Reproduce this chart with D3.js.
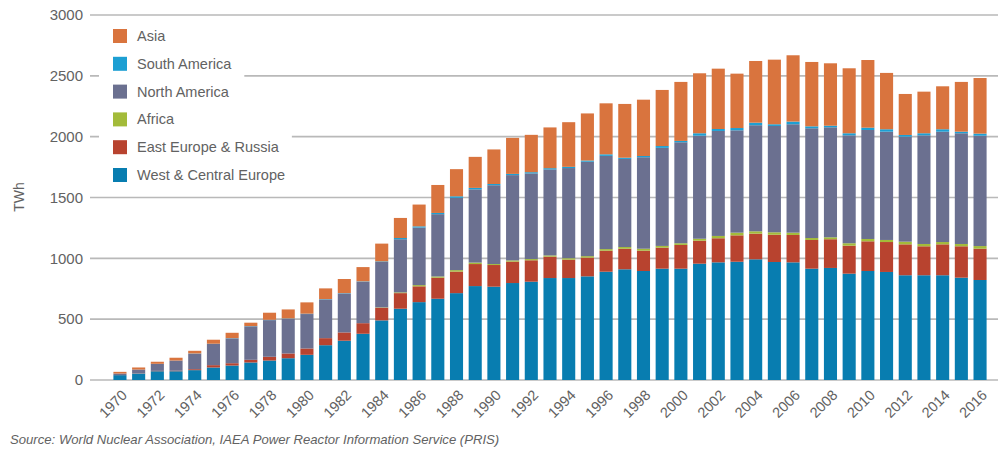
<!DOCTYPE html>
<html>
<head>
<meta charset="utf-8">
<script src="https://cdn.jsdelivr.net/npm/d3@7"></script>
<style>
  body { margin: 0; background: #fff; }
  svg text { font-family: "Liberation Sans", Arial, sans-serif; fill: #626262; }
</style>
</head>
<body>
<svg id="chart" width="1000" height="451"></svg>
<script>
// years on the x axis
var years = d3.range(1970, 2017);

// TWh per region (1970..2016)
var westCentralEurope = [40, 53, 72, 72, 81, 103, 119, 144, 160, 179, 207, 286, 323, 380, 490, 586, 640, 668, 714, 772,
  767, 797, 808, 838, 838, 852, 890, 910, 896, 915, 915, 956, 967, 972, 992, 970, 967, 915, 921, 874,
  896, 888, 861, 861, 861, 841, 822];
var eastEuropeRussia = [1, 2, 3, 4, 8, 19, 19, 22, 31, 39, 52, 58, 68, 87, 104, 128, 130, 173, 177, 181,
  178, 176, 176, 176, 151, 154, 173, 169, 167, 173, 195, 189, 198, 217, 211, 224, 225, 236, 236, 230,
  244, 246, 254, 238, 254, 258, 257];
var africa = [0, 0, 0, 0, 0, 0, 0, 0, 0, 0, 0, 0, 0, 0, 3, 6, 10, 10, 12, 12,
  8, 10, 10, 10, 12, 12, 13, 14, 16, 14, 14, 16, 19, 22, 19, 20, 19, 16, 16, 20,
  19, 17, 22, 19, 19, 19, 22];
var northAmerica = [12, 31, 58, 84, 127, 174, 204, 275, 301, 285, 283, 318, 320, 341, 373, 437, 473, 512, 594, 602,
  648, 701, 704, 707, 741, 776, 766, 724, 752, 806, 830, 847, 863, 841, 872, 874, 891, 902, 904, 887,
  896, 890, 863, 893, 907, 910, 907];
var southAmerica = [0, 0, 0, 0, 2, 2, 2, 2, 3, 3, 3, 3, 3, 3, 5, 10, 10, 10, 13, 12,
  10, 10, 10, 10, 10, 10, 13, 10, 10, 15, 11, 20, 16, 19, 21, 14, 22, 16, 13, 17,
  19, 20, 14, 17, 20, 13, 17];
var asia = [14, 17, 17, 23, 22, 33, 44, 28, 58, 74, 93, 88, 116, 117, 146, 165, 179, 230, 223, 255,
  284, 296, 307, 335, 367, 387, 419, 442, 463, 461, 485, 493, 496, 447, 507, 531, 545, 529, 513, 534,
  556, 463, 337, 342, 353, 409, 457];

var seriesNames = ["West & Central Europe", "East Europe & Russia", "Africa", "North America", "South America", "Asia"];
var seriesColors = ["#087db0", "#b8432f", "#a3bb3a", "#6b7090", "#1d9fd3", "#d9743e"];
var yTicks = [0, 500, 1000, 1500, 2000, 2500, 3000];
var sourceText = "Source: World Nuclear Association, IAEA Power Reactor Information Service (PRIS)";

var svg = d3.select("#chart");
var plotLeft = 90, plotRight = 998, plotTop = 15, plotBottom = 380;

// build rows for the stack
var table = years.map(function(yr, i) {
  return {
    year: yr,
    "West & Central Europe": westCentralEurope[i],
    "East Europe & Russia": eastEuropeRussia[i],
    "Africa": africa[i],
    "North America": northAmerica[i],
    "South America": southAmerica[i],
    "Asia": asia[i]
  };
});
var stacked = d3.stack().keys(seriesNames)(table);

var x = d3.scaleBand()
  .domain(years)
  .range([110.6, 989.4])
  .paddingInner(0.3)
  .paddingOuter(0.15);

var y = d3.scaleLinear()
  .domain([0, 3000])
  .range([plotBottom, plotTop]);

var color = d3.scaleOrdinal().domain(seriesNames).range(seriesColors);

// gridlines
svg.append("g")
  .selectAll("line")
  .data(yTicks)
  .enter()
  .append("line")
  .attr("x1", plotLeft)
  .attr("x2", plotRight)
  .attr("y1", function(d) { return y(d); })
  .attr("y2", function(d) { return y(d); })
  .attr("stroke", "#b9b9b9")
  .attr("stroke-width", 1.6);

// y axis labels
var yAxis = svg.append("g")
  .attr("transform", "translate(" + (plotLeft - 7) + ",0)")
  .call(d3.axisLeft(y).tickValues(yTicks).tickFormat(d3.format("d")).tickSize(0).tickPadding(0));
yAxis.select(".domain").remove();
yAxis.selectAll("text")
  .style("font-size", "15px")
  .style("font-family", "Liberation Sans, Arial, sans-serif")
  .attr("fill", "#626262");

svg.append("text")
  .attr("transform", "translate(24,197) rotate(-90)")
  .attr("text-anchor", "middle")
  .style("font-size", "14px")
  .text("TWh");

// bars
svg.append("g")
  .selectAll("g")
  .data(stacked)
  .enter()
  .append("g")
  .attr("fill", function(d) { return color(d.key); })
  .selectAll("rect")
  .data(function(d) { return d; })
  .enter()
  .append("rect")
  .attr("x", function(d) { return x(d.data.year); })
  .attr("width", x.bandwidth())
  .attr("y", function(d) { return y(d[1]); })
  .attr("height", function(d) { return y(d[0]) - y(d[1]); });

// x axis labels, every second year
var xAxis = svg.append("g")
  .attr("transform", "translate(0," + plotBottom + ")")
  .call(d3.axisBottom(x)
    .tickValues(years.filter(function(d) { return d % 2 === 0; }))
    .tickSize(0));
xAxis.select(".domain").remove();
xAxis.selectAll("text")
  .style("font-size", "14.5px")
  .style("font-family", "Liberation Sans, Arial, sans-serif")
  .attr("fill", "#626262")
  .attr("text-anchor", "end")
  .attr("y", 0)
  .attr("dy", 0)
  .attr("transform", "translate(8,16) rotate(-45)");

// legend (reverse order, Asia on top), white box behind each entry
var legend = svg.append("g");
var legendItems = seriesNames.slice().reverse();
var rowY = d3.scaleLinear().domain([0, 5]).range([36, 175]);
legendItems.forEach(function(name, i) {
  var g = legend.append("g").attr("transform", "translate(0," + rowY(i) + ")");
  var bg = g.append("rect").attr("fill", "#fff");
  g.append("rect")
    .attr("x", 113).attr("y", -7)
    .attr("width", 14).attr("height", 14)
    .attr("fill", color(name));
  var t = g.append("text")
    .attr("x", 137).attr("dy", "0.35em")
    .style("font-size", "14.5px")
    .text(name);
  var w = t.node().getComputedTextLength();
  bg.attr("x", 99).attr("y", -14).attr("width", 137 + w + 13 - 99).attr("height", 28);
});

// source line
var src = svg.append("text")
  .attr("x", 10).attr("y", 444)
  .style("font-size", "13px")
  .style("font-style", "italic")
  .text(sourceText);
var sw = src.node().getComputedTextLength();
src.style("font-size", (13 * 490 / sw) + "px");
</script>
</body>
</html>
